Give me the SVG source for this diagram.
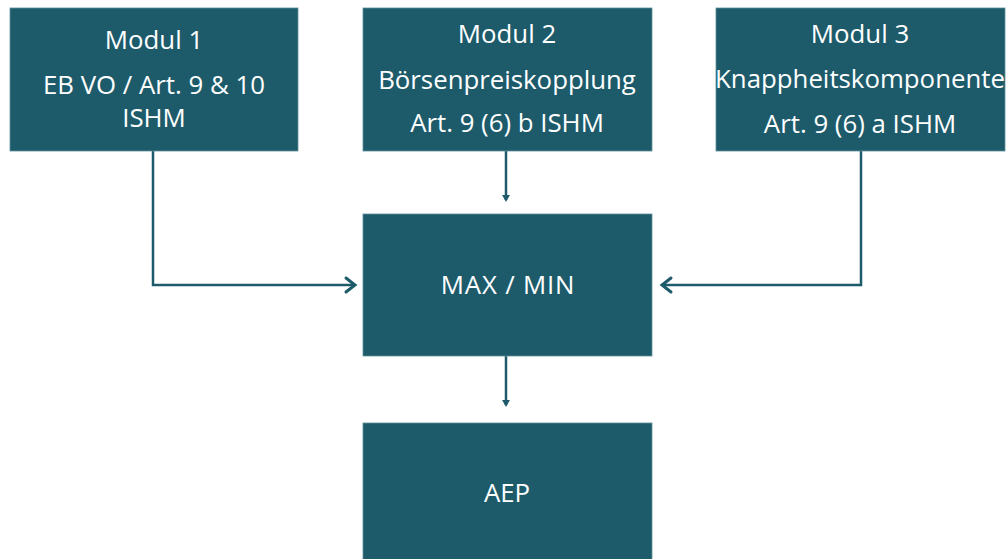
<svg xmlns="http://www.w3.org/2000/svg" width="1007" height="559" viewBox="0 0 1007 559">
<style>
.box{fill:#1d5b6b;stroke:#5f8e9a;stroke-width:0.8}
.t{font-family:"Open Sans","DejaVu Sans",sans-serif;font-size:25.8px;fill:#ffffff;text-anchor:middle}
.c{fill:none;stroke:#1d5b6b;stroke-width:2.5;stroke-linejoin:miter}
.chev{fill:none;stroke:#1d5b6b;stroke-width:3;stroke-linecap:round;stroke-linejoin:miter}
</style>
<defs>
<marker id="tri" markerWidth="4" markerHeight="4" refX="2.2" refY="2" orient="auto" markerUnits="strokeWidth">
<path d="M0,0.3 L3,2 L0,3.7 Z" fill="#1d5b6b"/>
</marker>
</defs>
<rect width="1007" height="559" fill="#ffffff"/>
<g id="connectors">
<polyline class="c" points="153,151 153,285 354,285"/>
<polyline class="chev" points="346,278 355,285 346,292"/>
<polyline class="c" points="861,151 861,285 663,285"/>
<polyline class="chev" points="671,278 662,285 671,292"/>
<line class="c" x1="506" y1="151" x2="506" y2="200" marker-end="url(#tri)"/>
<line class="c" x1="506" y1="356" x2="506" y2="405" marker-end="url(#tri)"/>
</g>
<g id="modul1">
<rect class="box" x="10" y="8" width="288" height="143"/>
<text class="t" x="154" y="49">Modul 1</text>
<text class="t" x="154" y="94">EB VO / Art. 9 &amp; 10</text>
<text class="t" x="154" y="127">ISHM</text>
</g>
<g id="modul2">
<rect class="box" x="363" y="8" width="289" height="143"/>
<text class="t" x="507" y="43">Modul 2</text>
<text class="t" x="507" y="89">Börsenpreiskopplung</text>
<text class="t" x="507" y="132">Art. 9 (6) b ISHM</text>
</g>
<g id="modul3">
<rect class="box" x="716" y="8" width="289" height="143"/>
<text class="t" x="860" y="43">Modul 3</text>
<text class="t" x="860" y="88">Knappheitskomponente</text>
<text class="t" x="860" y="133">Art. 9 (6) a ISHM</text>
</g>
<g id="maxmin">
<rect class="box" x="363" y="214" width="289" height="142"/>
<text class="t" x="508" y="294" letter-spacing="0.8">MAX / MIN</text>
</g>
<g id="aep">
<rect class="box" x="363" y="423" width="289" height="140"/>
<text class="t" x="507" y="502">AEP</text>
</g>
</svg>
